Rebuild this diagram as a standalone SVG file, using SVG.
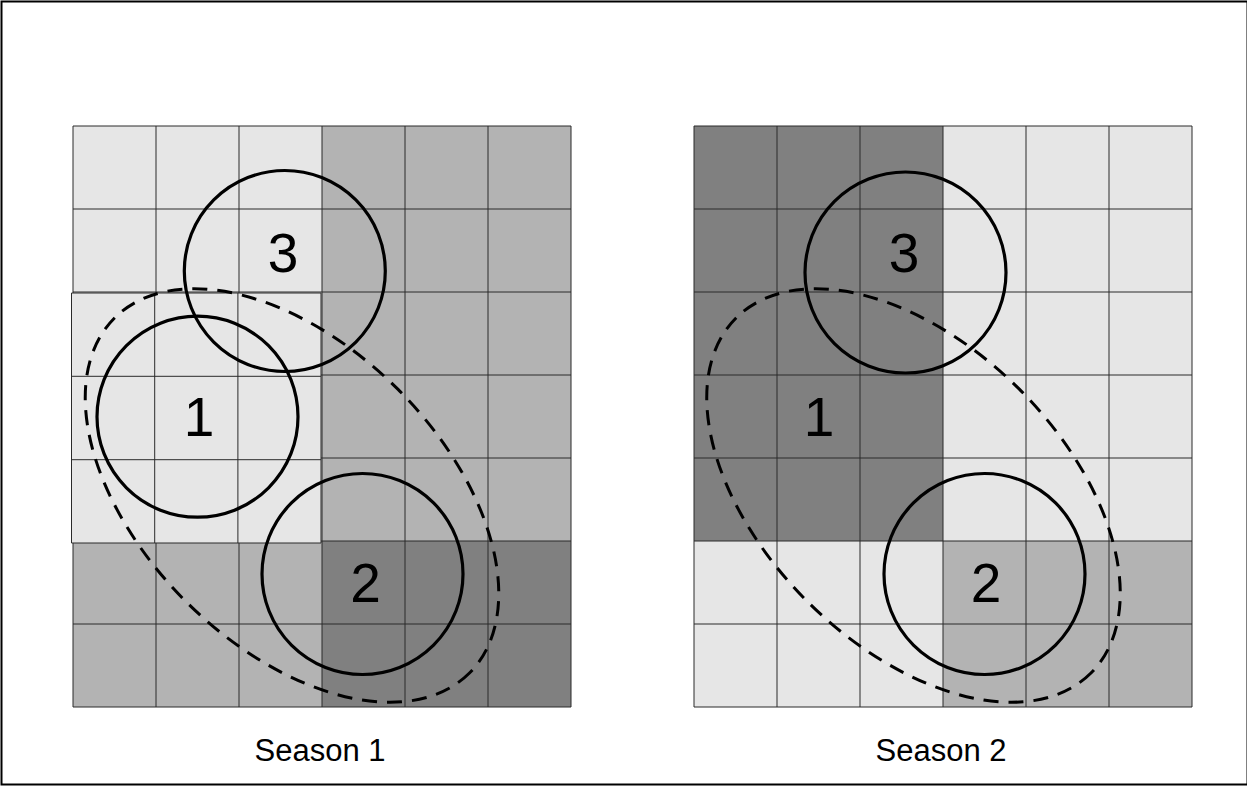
<svg xmlns="http://www.w3.org/2000/svg" width="1247" height="787" viewBox="0 0 1247 787">
<style>
.L{fill:#e6e6e6}.M{fill:#b3b3b3}.D{fill:#808080}
.grid{fill:none;stroke:#2a2a2a;stroke-width:1}
.circ{fill:none;stroke:#000;stroke-width:3.2}
.ell{fill:none;stroke:#000;stroke-width:3;stroke-dasharray:15 10}
.num{font-family:"Liberation Sans",Arial,sans-serif;font-size:55px;text-anchor:middle;fill:#000}
.cap{font-family:"Liberation Sans",Arial,sans-serif;font-size:31px;text-anchor:middle;fill:#000}
</style>
<defs>
<path id="gridlines" d="M73 126V707M156 126V707M239 126V707M322 126V707M405 126V707M488 126V707M571 126V707M73 126H571M73 209H571M73 292H571M73 375H571M73 458H571M73 541H571M73 624H571M73 707H571"/>
</defs>
<rect x="1.5" y="1.5" width="1246" height="783" fill="#fff" stroke="#000" stroke-width="2"/>
<g id="season1">
<rect class="L" x="73" y="126" width="249" height="415"/>
<rect class="M" x="322" y="126" width="249" height="415"/>
<rect class="M" x="73" y="541" width="249" height="166"/>
<rect class="D" x="322" y="541" width="249" height="166"/>
<use href="#gridlines" class="grid"/>
<g id="s1-block">
<rect class="L" x="71.5" y="293" width="249.5" height="250"/>
<path class="grid" d="M71.5 293H321M71.5 376.3H321M71.5 459.7H321M71.5 543H321M71.5 293V543M154.7 293V543M237.9 293V543M321 293V543"/>
</g>
<g id="s1-zone1"><circle class="circ" cx="197.5" cy="416.7" r="100.5"/><text class="num" x="199" y="436">1</text></g>
<g id="s1-zone3"><circle class="circ" cx="284.8" cy="271" r="100.5"/><text class="num" x="283" y="271.7">3</text></g>
<g id="s1-zone2"><circle class="circ" cx="362.5" cy="574" r="100.5"/><text class="num" x="365.5" y="601.7">2</text></g>
<ellipse id="s1-range" class="ell" cx="292" cy="495.5" rx="251" ry="150" transform="rotate(45 292 495.5)"/>
<text class="cap" x="320" y="761">Season 1</text>
</g>
<g id="season2">
<rect class="D" x="694" y="126" width="249" height="415"/>
<rect class="L" x="943" y="126" width="249" height="415"/>
<rect class="L" x="694" y="541" width="249" height="166"/>
<rect class="M" x="943" y="541" width="249" height="166"/>
<use href="#gridlines" class="grid" transform="translate(621 0)"/>
<g id="s2-zone1"><text class="num" x="819" y="436">1</text></g>
<g id="s2-zone3"><circle class="circ" cx="905.5" cy="272.5" r="100.5"/><text class="num" x="904" y="271.7">3</text></g>
<g id="s2-zone2"><circle class="circ" cx="984.5" cy="574" r="100.5"/><text class="num" x="986" y="601.7">2</text></g>
<ellipse id="s2-range" class="ell" cx="913.5" cy="495.5" rx="251" ry="150" transform="rotate(45 913.5 495.5)"/>
<text class="cap" x="941" y="761">Season 2</text>
</g>
</svg>
